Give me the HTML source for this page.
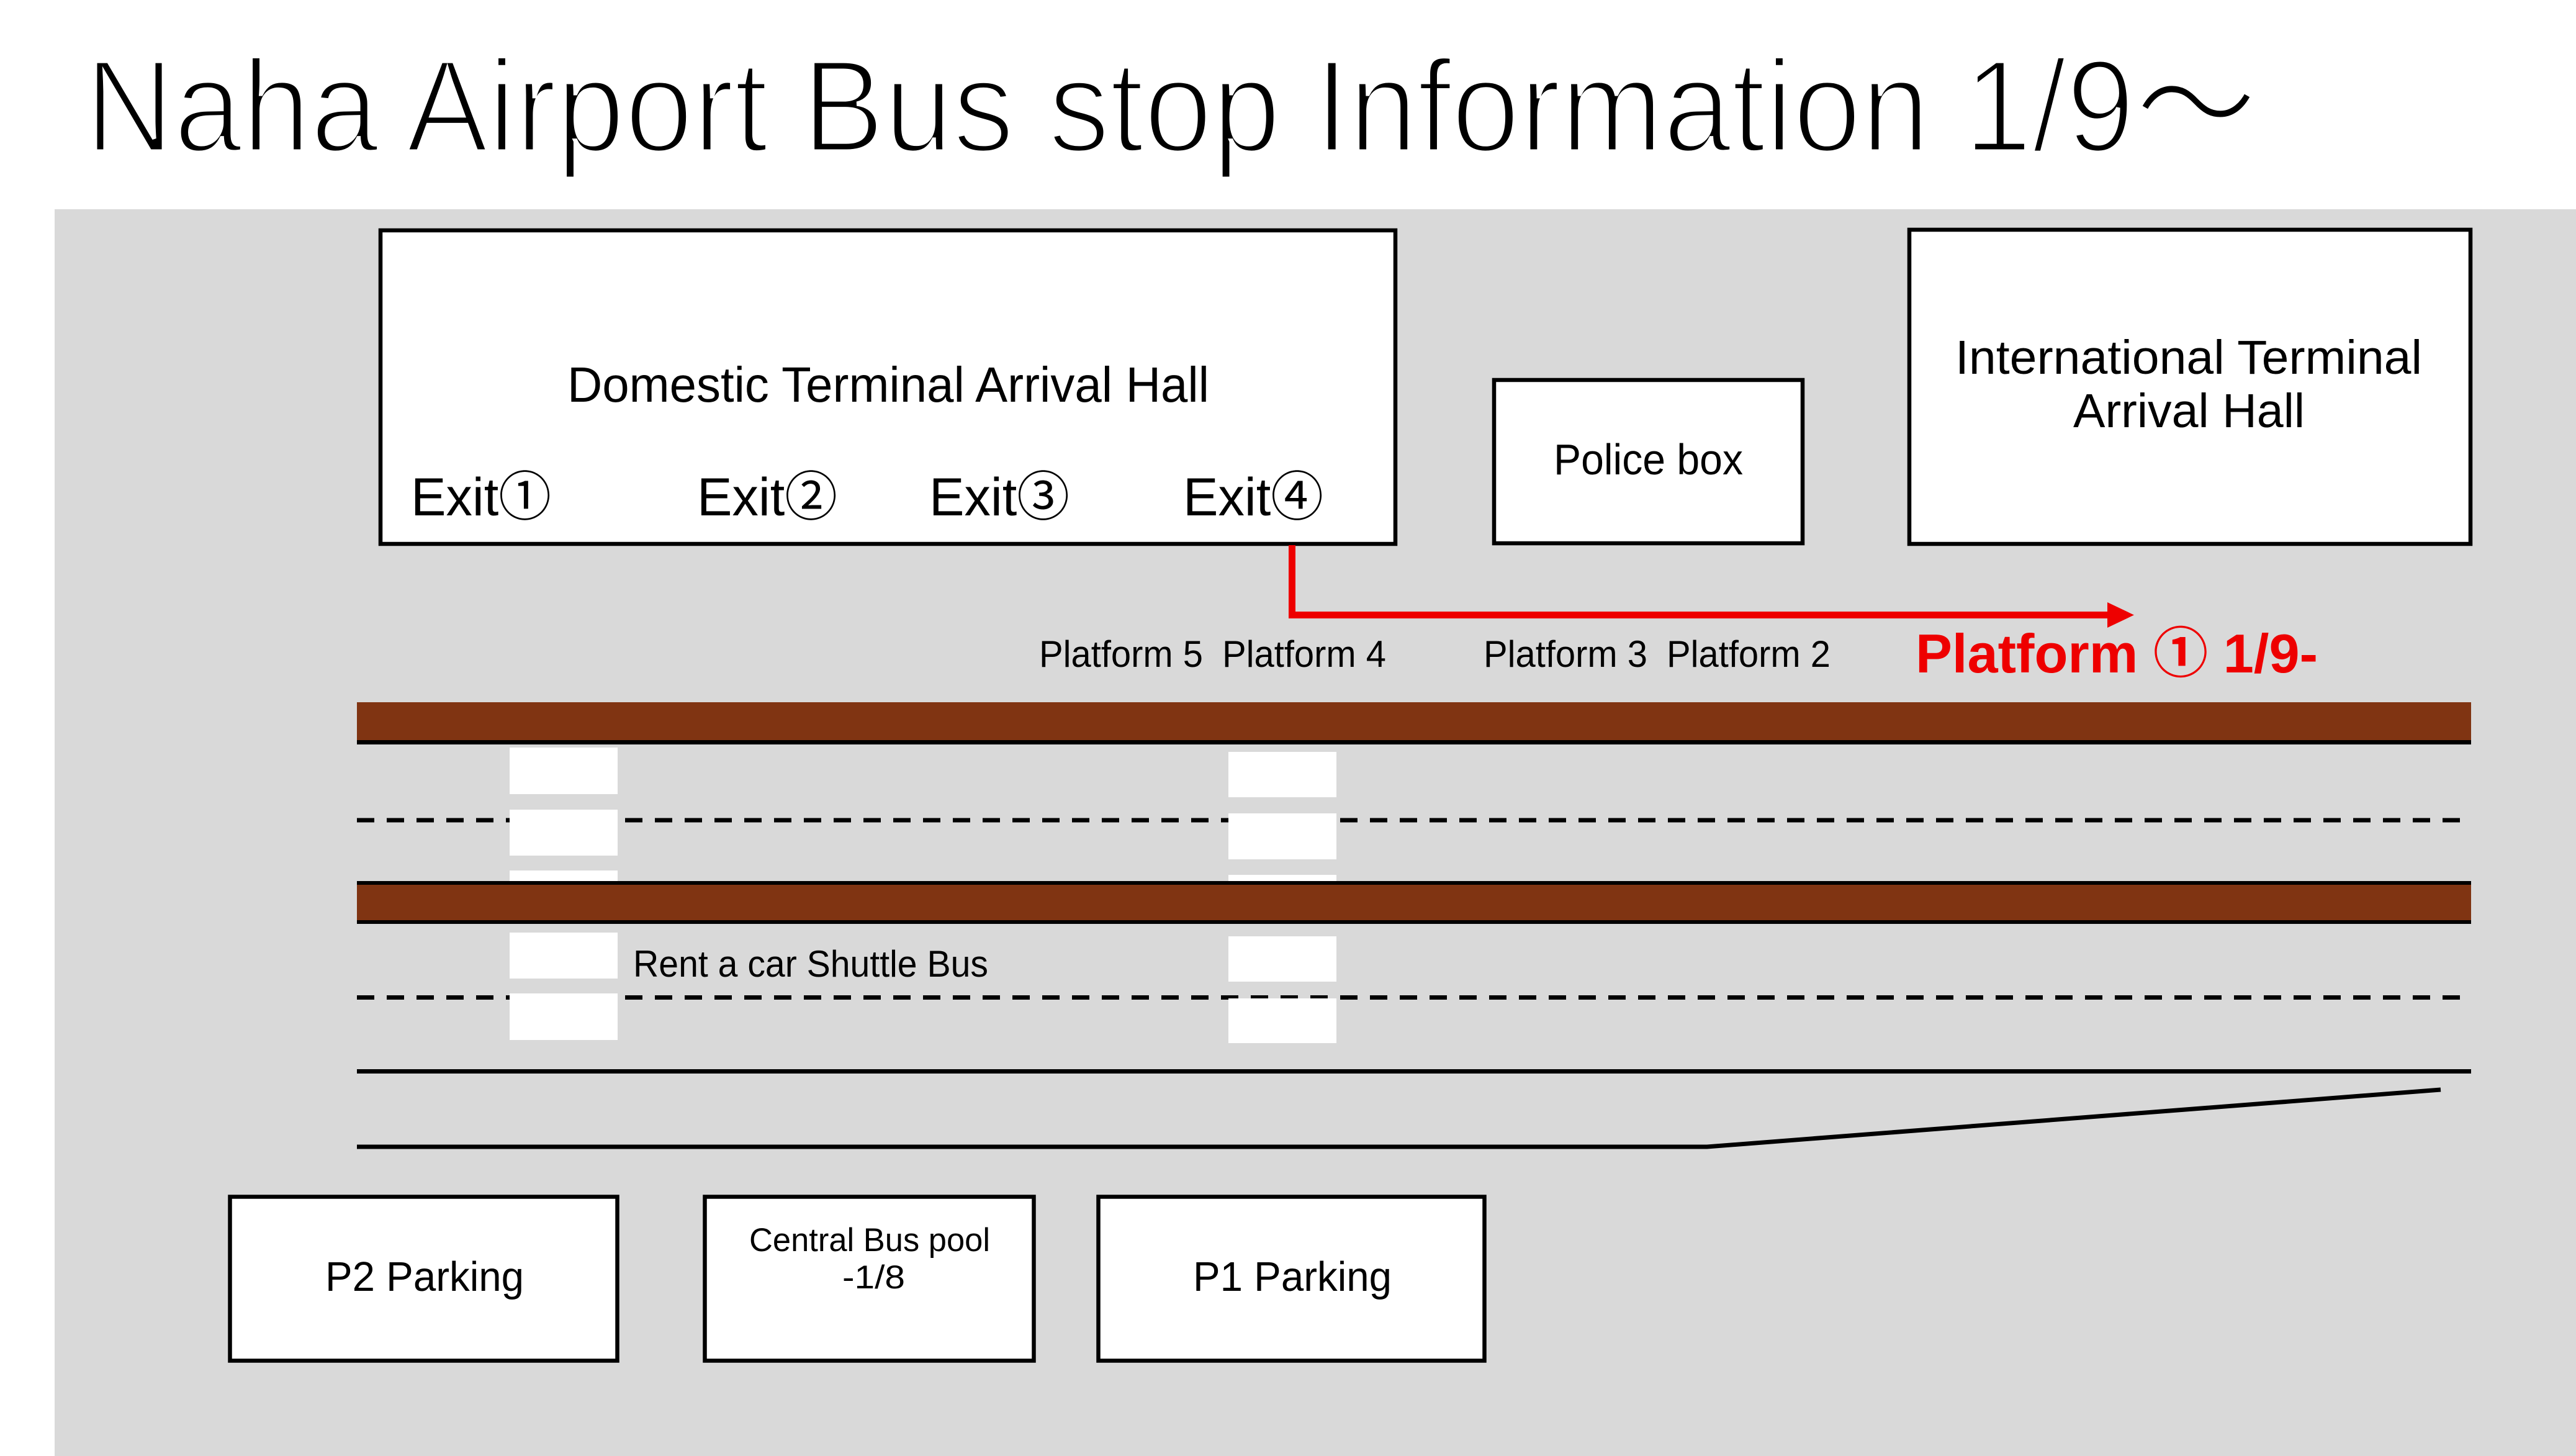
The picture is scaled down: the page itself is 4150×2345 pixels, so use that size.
<!DOCTYPE html>
<html>
<head>
<meta charset="utf-8">
<style>
html,body{margin:0;padding:0;background:#fff;}
svg{display:block;}
text{font-family:"Liberation Sans","Noto Sans CJK JP",sans-serif;}
</style>
</head>
<body>
<svg xmlns="http://www.w3.org/2000/svg" width="4150" height="2345" viewBox="0 0 4150 2345">
  <rect x="0" y="0" width="4150" height="2345" fill="#ffffff"/>
  <!-- Title -->
  <text x="137" y="244" font-size="212" fill="#000" stroke="#fff" stroke-width="7" textLength="3500" lengthAdjust="spacingAndGlyphs">Naha Airport Bus stop Information 1/9～</text>

  <!-- Gray background -->
  <rect x="88" y="337" width="4062" height="2008" fill="#d9d9d9"/>

  <!-- Domestic terminal -->
  <rect x="613" y="371" width="1635" height="505" fill="#fff" stroke="#000" stroke-width="6.5"/>
  <text x="914" y="647" font-size="80" fill="#000" textLength="1034" lengthAdjust="spacingAndGlyphs">Domestic Terminal Arrival Hall</text>
  <text x="662" y="830" font-size="86" fill="#000" textLength="226" lengthAdjust="spacingAndGlyphs">Exit①</text>
  <text x="1123" y="830" font-size="86" fill="#000" textLength="226" lengthAdjust="spacingAndGlyphs">Exit②</text>
  <text x="1497" y="830" font-size="86" fill="#000" textLength="226" lengthAdjust="spacingAndGlyphs">Exit③</text>
  <text x="1906" y="830" font-size="86" fill="#000" textLength="226" lengthAdjust="spacingAndGlyphs">Exit④</text>

  <!-- Police box -->
  <rect x="2407" y="612" width="497" height="263" fill="#fff" stroke="#000" stroke-width="6.5"/>
  <text x="2503" y="764" font-size="70" fill="#000" textLength="305" lengthAdjust="spacingAndGlyphs">Police box</text>

  <!-- International terminal -->
  <rect x="3076" y="370" width="904" height="506" fill="#fff" stroke="#000" stroke-width="6.5"/>
  <text x="3150" y="602" font-size="77" fill="#000" textLength="752" lengthAdjust="spacingAndGlyphs">International Terminal</text>
  <text x="3340" y="688" font-size="77" fill="#000" textLength="373" lengthAdjust="spacingAndGlyphs">Arrival Hall</text>

  <!-- Red arrow -->
  <path d="M2081.5 878 V990.5 H3398" fill="none" stroke="#ee0000" stroke-width="11"/>
  <polygon points="3395,970 3438,990.5 3395,1011" fill="#ee0000"/>

  <!-- Platform labels -->
  <text x="1674" y="1074" font-size="60" fill="#000" textLength="264" lengthAdjust="spacingAndGlyphs">Platform 5</text>
  <text x="1969" y="1074" font-size="60" fill="#000" textLength="264" lengthAdjust="spacingAndGlyphs">Platform 4</text>
  <text x="2390" y="1074" font-size="60" fill="#000" textLength="264" lengthAdjust="spacingAndGlyphs">Platform 3</text>
  <text x="2685" y="1074" font-size="60" fill="#000" textLength="264" lengthAdjust="spacingAndGlyphs">Platform 2</text>
  <text x="3086" y="1083" font-size="88" font-weight="bold" fill="#ee0000" textLength="648" lengthAdjust="spacingAndGlyphs">Platform ① 1/9-</text>

  <!-- Dashed lane lines -->
  <line x1="575" y1="1321" x2="3978" y2="1321" stroke="#000" stroke-width="7" stroke-dasharray="28 20"/>
  <line x1="575" y1="1606.5" x2="3978" y2="1606.5" stroke="#000" stroke-width="7" stroke-dasharray="28 20"/>

  <!-- Crosswalk column 1 -->
  <rect x="821" y="1204" width="174" height="75" fill="#fff"/>
  <rect x="821" y="1304" width="174" height="74" fill="#fff"/>
  <rect x="821" y="1402" width="174" height="74" fill="#fff"/>
  <rect x="821" y="1502" width="174" height="74" fill="#fff"/>
  <rect x="821" y="1600" width="174" height="75" fill="#fff"/>
  <!-- Crosswalk column 2 -->
  <rect x="1979" y="1211" width="174" height="73" fill="#fff"/>
  <rect x="1979" y="1310" width="174" height="74" fill="#fff"/>
  <rect x="1979" y="1409" width="174" height="74" fill="#fff"/>
  <rect x="1979" y="1508" width="174" height="73" fill="#fff"/>
  <rect x="1979" y="1608" width="174" height="72" fill="#fff"/>

  <!-- Brown band 1 -->
  <rect x="575" y="1131" width="3406" height="61" fill="#803412"/>
  <rect x="575" y="1192" width="3406" height="7" fill="#000"/>
  <!-- Brown band 2 -->
  <rect x="575" y="1419" width="3406" height="69" fill="#000"/>
  <rect x="575" y="1425" width="3406" height="57" fill="#803412"/>

  <text x="1020" y="1573" font-size="60" fill="#000" textLength="572" lengthAdjust="spacingAndGlyphs">Rent a car Shuttle Bus</text>

  <!-- Solid road lines -->
  <line x1="575" y1="1725.5" x2="3981" y2="1725.5" stroke="#000" stroke-width="7"/>
  <polyline points="575,1847 2750,1847 3932,1755" fill="none" stroke="#000" stroke-width="7"/>

  <!-- Parking boxes -->
  <rect x="370.5" y="1927.5" width="624" height="264" fill="#fff" stroke="#000" stroke-width="6.5"/>
  <text x="524" y="2079" font-size="67" fill="#000" textLength="320" lengthAdjust="spacingAndGlyphs">P2 Parking</text>

  <rect x="1135.5" y="1927.5" width="530" height="264" fill="#fff" stroke="#000" stroke-width="6.5"/>
  <text x="1207" y="2015" font-size="53" fill="#000" textLength="388" lengthAdjust="spacingAndGlyphs">Central Bus pool</text>
  <text x="1357" y="2075" font-size="53" fill="#000" textLength="101" lengthAdjust="spacingAndGlyphs">-1/8</text>

  <rect x="1769.5" y="1927.5" width="622" height="264" fill="#fff" stroke="#000" stroke-width="6.5"/>
  <text x="1922" y="2079" font-size="67" fill="#000" textLength="320" lengthAdjust="spacingAndGlyphs">P1 Parking</text>
</svg>
</body>
</html>
